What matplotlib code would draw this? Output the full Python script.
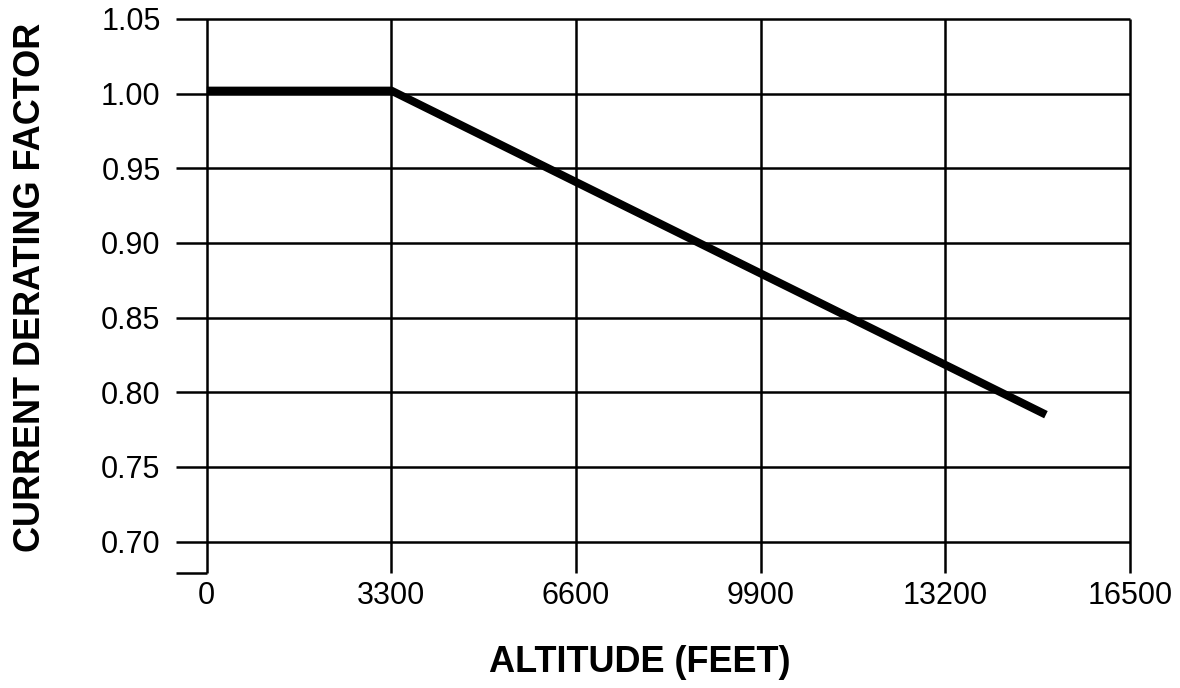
import numpy as np
import matplotlib.pyplot as plt

plt.rcParams['font.family'] = ['Liberation Sans', 'DejaVu Sans']

# derating curve
altitude = [0, 3300, 15000]
factor = [1.002, 1.002, 0.785]

x_ticks = [0, 3300, 6600, 9900, 13200, 16500]
x_labels = ['0', '3300', '6600', '9900', '13200', '16500']
y_ticks = [0.70, 0.75, 0.80, 0.85, 0.90, 0.95, 1.00, 1.05]
y_labels = ['0.70', '0.75', '0.80', '0.85', '0.90', '0.95', '1.00', '1.05']

x_left = -554
y_bottom = 0.679

fig = plt.figure(figsize=(11.8, 6.88), dpi=100)
ax = fig.add_axes([0.149, 0.1672, 0.8085, 0.8052])
ax.set_xlim(x_left, 16500)
ax.set_ylim(y_bottom, 1.05)
for s in ax.spines.values():
    s.set_visible(False)

# grid drawn by hand, the frame is open at the bottom
ax.hlines(y_ticks, x_left, 16500, color='black', lw=1.8, clip_on=False)
ax.vlines(x_ticks, y_bottom, 1.05, color='black', lw=1.8, clip_on=False)
ax.hlines(y_bottom, x_left, 0, color='black', lw=1.8, clip_on=False)

ax.plot(altitude, factor, color='black', lw=5.8, solid_capstyle='butt', clip_on=False)

ax.set_xticks(x_ticks)
ax.set_xticklabels(x_labels)
ax.set_yticks(y_ticks)
ax.set_yticklabels(y_labels)
ax.tick_params(length=0, labelsize=22)
ax.tick_params(axis='x', pad=6)
ax.tick_params(axis='y', pad=11)

fig.text(0.542, 0.0233, 'ALTITUDE (FEET)', ha='center', va='baseline',
         fontsize=26, fontweight='bold')
fig.text(0.026, 0.583, 'CURRENT DERATING FACTOR', ha='center', va='center',
         rotation=90, fontsize=26, fontweight='bold')

plt.savefig('out.png', dpi=100, facecolor='white')
